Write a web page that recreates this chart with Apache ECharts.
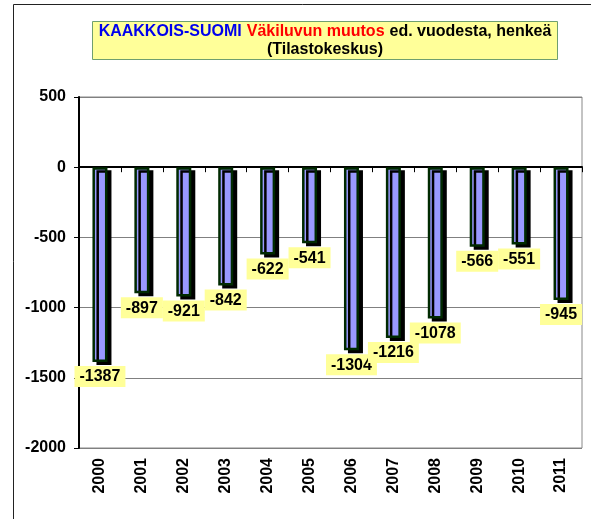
<!DOCTYPE html>
<html>
<head>
<meta charset="utf-8">
<script src="https://cdn.jsdelivr.net/npm/echarts@6/dist/echarts.min.js"></script>
<style>
  html, body { margin: 0; padding: 0; background: #fff; }
  #chart { width: 591px; height: 519px; }
</style>
</head>
<body>
<div id="chart"></div>
<script>
var years = ['2000', '2001', '2002', '2003', '2004', '2005', '2006', '2007', '2008', '2009', '2010', '2011'];
var muutos = [-1387, -897, -921, -842, -622, -541, -1304, -1216, -1078, -566, -551, -945];
var yTicks = [500, 0, -500, -1000, -1500, -2000];

var FONT = '"Liberation Sans", Arial, sans-serif';

var chart = echarts.init(document.getElementById('chart'));
var option = {
  backgroundColor: '#fff',
  animation: false,
  title: {
    left: 319,
    top: 21,
    textAlign: 'center',
    padding: [2, 6, 2, 6],
    backgroundColor: '#ffff99',
    borderColor: '#6f9f6f',
    borderWidth: 1,
    text: '{b|KAAKKOIS-SUOMI} {r|Väkiluvun muutos} {k|ed. vuodesta, henkeä}\n{k|(Tilastokeskus)}',
    textStyle: {
      fontFamily: FONT,
      rich: {
        b: { color: '#0000ee', fontWeight: 'bold', fontSize: 16, fontFamily: FONT, lineHeight: 18 },
        r: { color: '#ff0000', fontWeight: 'bold', fontSize: 16, fontFamily: FONT, lineHeight: 18 },
        k: { color: '#000', fontWeight: 'bold', fontSize: 16, fontFamily: FONT, lineHeight: 18 }
      }
    }
  },
  graphic: [
    { type: 'line', shape: { x1: 13.5, y1: 4.5, x2: 591, y2: 4.5 }, style: { stroke: '#222', lineWidth: 1 } },
    { type: 'line', shape: { x1: 13.5, y1: 4.5, x2: 13.5, y2: 519 }, style: { stroke: '#222', lineWidth: 1 } }
  ],
  grid: { left: 79, right: 9, top: 97, bottom: 71, show: true, borderColor: '#888', borderWidth: 1 },
  xAxis: [
    {
      type: 'category',
      data: years,
      position: 'bottom',
      axisLine: { onZero: false, show: false },
      axisTick: { show: false },
      axisLabel: { rotate: 90, fontWeight: 'bold', fontSize: 16, color: '#000', fontFamily: FONT, margin: 10 }
    },
    {
      type: 'category',
      data: years,
      position: 'bottom',
      axisLine: { onZero: true, lineStyle: { color: '#000', width: 2 } },
      axisTick: { show: true, length: 5, lineStyle: { color: '#000' } },
      axisLabel: { show: false }
    }
  ],
  yAxis: {
    type: 'value',
    min: yTicks[yTicks.length - 1],
    max: yTicks[0],
    interval: 500,
    axisLine: { show: true, lineStyle: { color: '#000', width: 2 } },
    axisTick: { show: true, length: 5, lineStyle: { color: '#000' } },
    axisLabel: {
      fontWeight: 'bold', fontSize: 16, color: '#000', fontFamily: FONT, margin: 13,
      formatter: function (v) { return String(v); }
    },
    splitLine: { show: true, lineStyle: { color: '#808080', width: 1 } }
  },
  series: [{
    type: 'bar',
    data: muutos,
    barWidth: 15,
    itemStyle: {
      color: '#9999ff',
      borderColor: '#002a00',
      borderWidth: 2.5,
      shadowColor: '#000',
      shadowBlur: 0,
      shadowOffsetX: 4,
      shadowOffsetY: 3
    },
    label: {
      show: true,
      position: 'bottom',
      distance: 4,
      color: '#000',
      fontWeight: 'bold',
      fontSize: 16,
      fontFamily: FONT,
      backgroundColor: '#ffff99',
      padding: [3, 5, 2, 5]
    }
  }]
};
chart.setOption(option);
</script>
</body>
</html>
